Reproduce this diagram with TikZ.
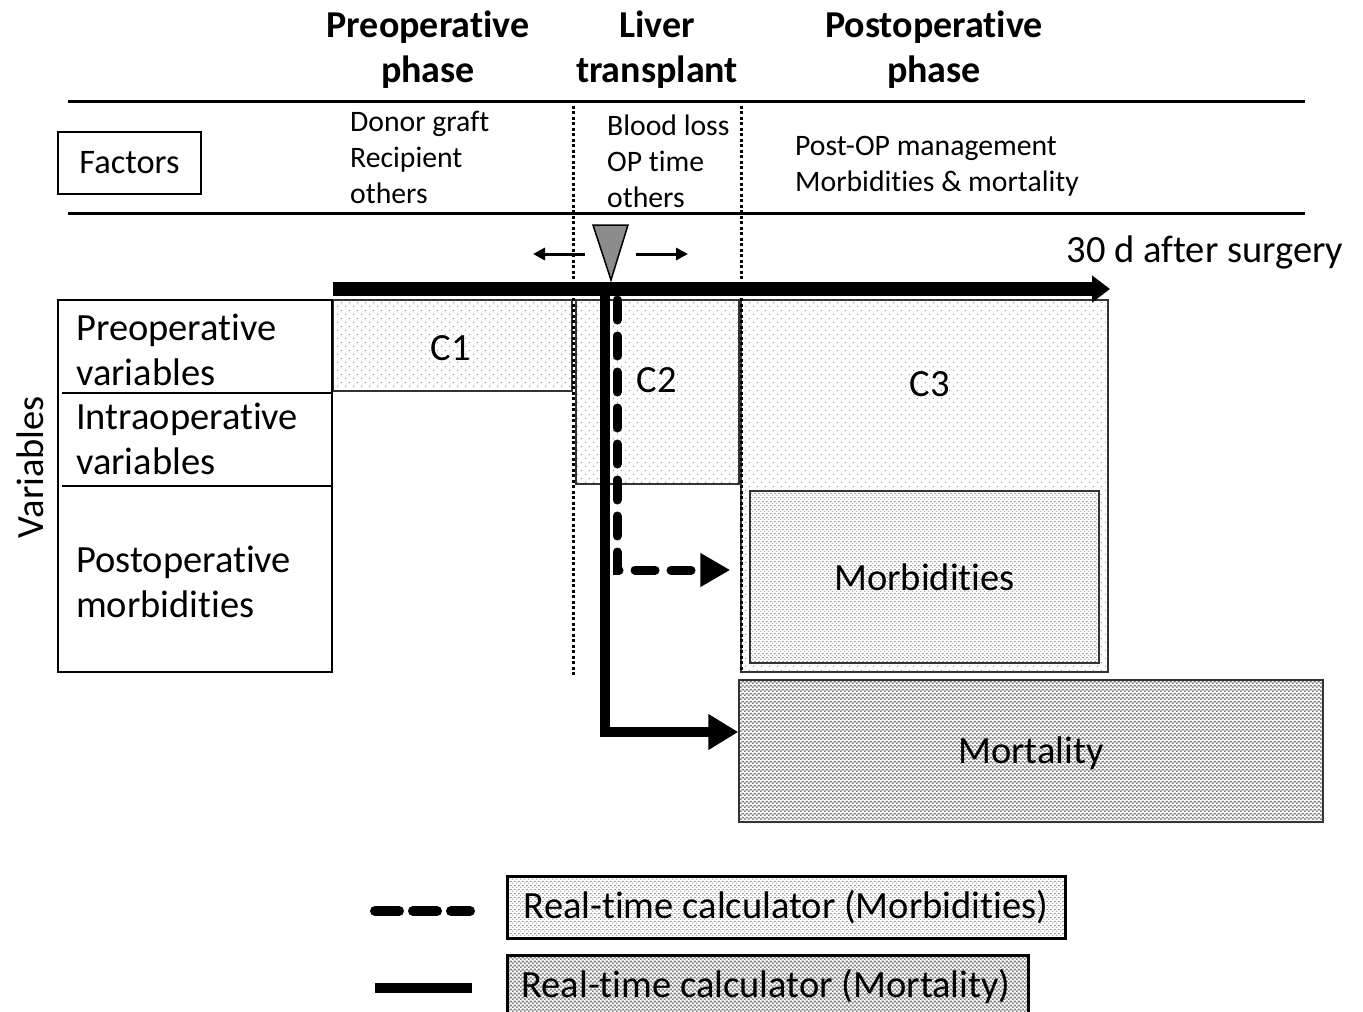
\documentclass[tikz,border=0pt]{standalone}
\usepackage{fontspec}
\setmainfont{Carlito}[Ligatures=NoCommon]
\usetikzlibrary{arrows.meta,patterns.meta,fit,calc}
\tikzdeclarepattern{
  name=cdots, type=colored,
  bottom left={(0pt,0pt)}, top right={(8pt,8pt)}, tile size={(8pt,8pt)},
  code={\pgfsetfillcolor{black!45}
    \pgfpathcircle{\pgfqpoint{2pt}{2pt}}{0.75pt}\pgfusepath{fill}
    \pgfpathcircle{\pgfqpoint{6pt}{6pt}}{0.75pt}\pgfusepath{fill}}
}
\tikzdeclarepattern{
  name=fdots, type=colored,
  bottom left={(0pt,0pt)}, top right={(4pt,4pt)}, tile size={(4pt,4pt)},
  code={\pgfsetfillcolor{black!40}
    \pgfpathcircle{\pgfqpoint{1pt}{1pt}}{0.8pt}\pgfusepath{fill}
    \pgfpathcircle{\pgfqpoint{3pt}{3pt}}{0.8pt}\pgfusepath{fill}}
}
\tikzdeclarepattern{
  name=checker, type=colored,
  bottom left={(0pt,0pt)}, top right={(4pt,4pt)}, tile size={(4pt,4pt)},
  code={\pgfsetfillcolor{black!50}
    \pgfpathrectangle{\pgfqpoint{0pt}{0pt}}{\pgfqpoint{2pt}{2pt}}\pgfusepath{fill}
    \pgfpathrectangle{\pgfqpoint{2pt}{2pt}}{\pgfqpoint{2pt}{2pt}}\pgfusepath{fill}}
}
\begin{document}
\begin{tikzpicture}[x=1pt,y=-1pt,
  big/.style={font=\fontsize{38.5}{45}\selectfont},
  smalltxt/.style={font=\fontsize{29.7}{36}\selectfont, align=left, inner sep=0pt},
  hdr/.style={font=\fontsize{38}{45}\selectfont\bfseries, align=center},
  rule/.style={line width=3pt},
  vdot/.style={line width=3pt, dash pattern=on 3pt off 2.5pt},
  cbox/.style={draw=black!80, line width=1.5pt, preaction={fill=white}, pattern=cdots, inner sep=0pt},
  mbox/.style={draw=black!80, line width=1.5pt, preaction={fill=white}, pattern=fdots, inner sep=0pt},
  kbox/.style={draw=black!80, line width=1.5pt, preaction={fill=white}, pattern=checker, inner sep=0pt},
  tbox/.style={draw=black, line width=1.5pt, inner sep=0pt},
  solidcon/.style={line width=10pt, -{Triangle[length=30pt,width=34pt]}},
  dashcon/.style={line width=9pt, dash pattern=on 20pt off 16pt, line cap=round, -{Triangle[length=30pt,width=32pt]}},
  smallarr/.style={line width=3pt, -{Triangle[length=12pt,width=12pt]}}
]
\useasboundingbox (0,0) rectangle (1363,1012);

% headers
\node[hdr] (h1) at (428,50) {Preoperative\\phase};
\node[hdr] (h2) at (657,50) {Liver\\transplant};
\node[hdr] (h3) at (934,50) {Postoperative\\phase};

% rules
\coordinate (r1a) at (68,101); \coordinate (r1b) at (1305,101);
\coordinate (r2a) at (68,213); \coordinate (r2b) at (1305,213);
\draw[rule] (r1a) -- (r1b);
\draw[rule] (r2a) -- (r2b);

% factors
\node[tbox, fit={(58,132) (201,194)}] (fac) {};
\node[font=\fontsize{34.4}{40}\selectfont] (factxt) at (fac.center) {Factors};
\node[smalltxt, anchor=west] (f1) at (350,157) {Donor graft\\Recipient\\others};
\node[smalltxt, anchor=west] (f2) at (607,161) {Blood loss\\OP time\\others};
\node[smalltxt, anchor=west] (f3) at (795,166) {Post-OP management\\Morbidities \& mortality};

% boxes
\node[cbox, fit={(333,300) (572,391)}] (c1) {};
\node[big] (c1t) at (451,348) {C1};
\node[cbox, fit={(576,300) (739,484)}] (c2) {};
\node[big] (c2t) at (657,380) {C2};
\node[cbox, fit={(741,300) (1108,672)}] (c3) {};
\node[big] (c3t) at (930,384) {C3};
\node[mbox, fit={(750,491) (1099,663)}] (morb) {};
\node[big] (morbt) at (morb.center) {Morbidities};
\node[kbox, fit={(739,680) (1323,822)}] (mort) {};
\node[big] (mortt) at ([yshift=-2pt]mort.center) {Mortality};

% variables table
\node[tbox, fit={(58,300) (332,672)}] (vt) {};
\coordinate (d1a) at (62,393); \coordinate (d1b) at (332,393);
\coordinate (d2a) at (62,486); \coordinate (d2b) at (332,486);
\draw[line width=1.5pt] (d1a) -- (d1b);
\draw[line width=1.5pt] (d2a) -- (d2b);
\node[big, align=left, anchor=west, inner sep=0pt] (v1) at (76,350) {Preoperative\\variables};
\node[big, align=left, anchor=west, inner sep=0pt] (v2) at (76,439) {Intraoperative\\variables};
\node[big, align=left, anchor=west, inner sep=0pt] (v3) at (76,582) {Postoperative\\morbidities};
\node[big, rotate=90] (var) at (30,467) {Variables};

% dotted verticals
\coordinate (va) at (573,100); \coordinate (vb) at (573,675);
\coordinate (wa) at (741,100); \coordinate (wb) at (741,670);
\draw[vdot] (va) -- (vb);
\draw[vdot] (wa) -- (wb);

% timeline
\coordinate (tl0) at (333,289); \coordinate (tl1) at (1110,289);
\draw[line width=14pt, -{Triangle[length=18pt,width=26pt]}] (tl0) -- (tl1);
\node[big] (days) at (1205,252) {30 d after surgery};

% marker
\draw[line width=1.5pt, fill=black!45] (593,225) -- (628,225) -- (611,280) -- cycle;
\coordinate (la0) at (585,254); \coordinate (la1) at (533,254);
\coordinate (ra0) at (636,254); \coordinate (ra1) at (688,254);
\draw[smallarr] (la0) -- (la1);
\draw[smallarr] (ra0) -- (ra1);

% connectors
\coordinate (sstart) at (605,296);
\coordinate (dstart) at (617,300);
\draw[solidcon] (sstart) |- ([yshift=19pt]mort.west);
\draw[dashcon, shorten >=19pt] (dstart) |- ([yshift=7pt]morb.west);

% legend
\coordinate (l1a) at (375,911); \coordinate (l1b) at (470,911);
\coordinate (l2a) at (375,988); \coordinate (l2b) at (472,988);
\draw[line width=10pt, dash pattern=on 24pt off 14pt, line cap=round] (l1a) -- (l1b);
\draw[line width=10pt] (l2a) -- (l2b);
\node[mbox, draw=black, line width=3pt, fit={(507,876) (1065,938)}] (lg1) {};
\node[big] (lg1t) at (lg1.center) {Real-time calculator (Morbidities)};
\node[kbox, draw=black, line width=3pt, fit={(507,955) (1028,1018)}] (lg2) {};
\node[big] (lg2t) at (766,987) {Real-time calculator (Mortality)};
\end{tikzpicture}
\end{document}
